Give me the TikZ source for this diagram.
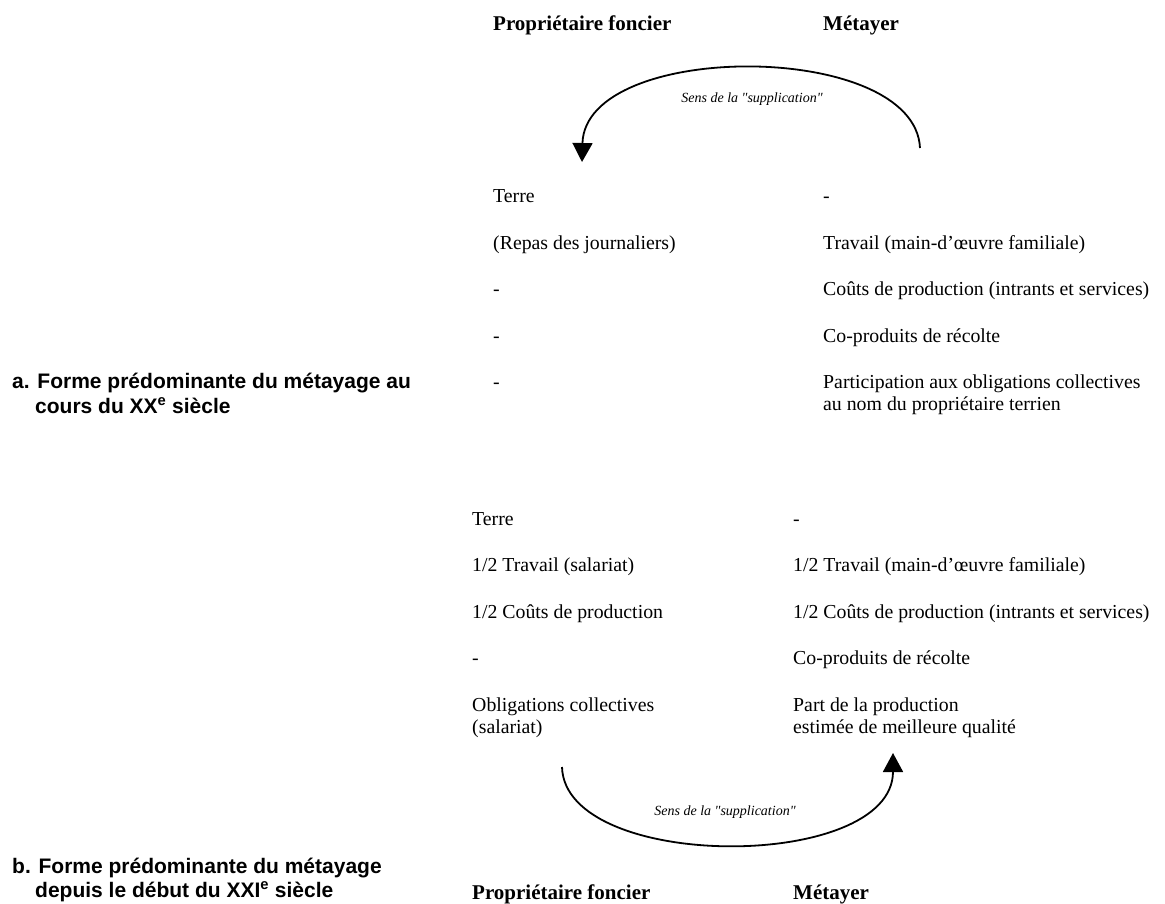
\documentclass[tikz,border=0pt]{standalone}
\usepackage{fontspec}
\setmainfont{Liberation Serif}
\newfontfamily\lsans{Liberation Sans}
\usetikzlibrary{arrows.meta}
\begin{document}
\begin{tikzpicture}[x=1pt,y=-1pt,
  body/.style={anchor=base west,inner sep=0pt,font=\fontsize{19.8}{23}\selectfont},
  head/.style={anchor=base west,inner sep=0pt,font=\fontsize{21}{25}\selectfont\bfseries},
  capt/.style={anchor=base west,inner sep=0pt,font=\lsans\bfseries\fontsize{21}{25}\selectfont},
  sens/.style={anchor=base,inner sep=0pt,font=\itshape\fontsize{14}{16}\selectfont},
  arr/.style={line width=1.8pt,-{Triangle[width=20pt,length=19pt]}}]
\useasboundingbox (0,0) rectangle (1165,903);

% ---- a ----
\node[head] (pfA) at (493,30) {Propriétaire foncier};
\node[head] (mA) at (823,30) {Métayer};
\coordinate (sA) at (920,148);
\coordinate (eA) at (582,162);
\draw[arr] (sA) .. controls (915,40) and (585,40) .. (eA);
\node[sens] (lA) at (752,102) {Sens de la \textquotedbl supplication\textquotedbl};

\node[body] (a1l) at (493,202) {Terre};
\node[body] (a2l) at (493,249) {(Repas des journaliers)};
\node[body] (a3l) at (493,295) {-};
\node[body] (a4l) at (493,342) {-};
\node[body] (a5l) at (493,388) {-};
\node[body] (a1r) at (823,202) {-};
\node[body] (a2r) at (823,249) {Travail (main-d’œuvre familiale)};
\node[body] (a3r) at (823,295) {Coûts de production (intrants et services)};
\node[body] (a4r) at (823,342) {Co-produits de récolte};
\node[body] (a5r) at (823,388) {Participation aux obligations collectives};
\node[body] (a6r) at (823,410) {au nom du propriétaire terrien};
\node[capt] (capA1) at (12,388) {a. Forme prédominante du métayage au};
\node[capt] (capA2) at (35,413) {cours du XX\textsuperscript{e} siècle};

% ---- b ----
\node[body] (b1l) at (472,525) {Terre};
\node[body] (b2l) at (472,571) {1/2 Travail (salariat)};
\node[body] (b3l) at (472,618) {1/2 Coûts de production};
\node[body] (b4l) at (472,664) {-};
\node[body] (b5l) at (472,711) {Obligations collectives};
\node[body] (b6l) at (472,733) {(salariat)};
\node[body] (b1r) at (793,525) {-};
\node[body] (b2r) at (793,571) {1/2 Travail (main-d’œuvre familiale)};
\node[body] (b3r) at (793,618) {1/2 Coûts de production (intrants et services)};
\node[body] (b4r) at (793,664) {Co-produits de récolte};
\node[body] (b5r) at (793,711) {Part de la production};
\node[body] (b6r) at (793,733) {estimée de meilleure qualité};

\coordinate (sB) at (562,767);
\coordinate (eB) at (893,753);
\draw[arr] (sB) .. controls (565,872) and (893,872) .. (eB);
\node[sens] (lB) at (725,815) {Sens de la \textquotedbl supplication\textquotedbl};

\node[head] (pfB) at (472,899) {Propriétaire foncier};
\node[head] (mB) at (793,899) {Métayer};
\node[capt] (capB1) at (12,873) {b. Forme prédominante du métayage};
\node[capt] (capB2) at (35,897) {depuis le début du XXI\textsuperscript{e} siècle};
\end{tikzpicture}
\end{document}
